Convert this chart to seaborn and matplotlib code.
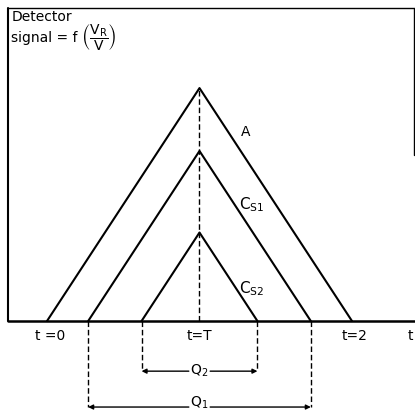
import matplotlib
matplotlib.use("Agg")
import matplotlib.pyplot as plt
import seaborn as sns
import pandas as pd

# Triangular detector responses (t in units of T, signal relative to A)
t_A = [0.0, 1.0, 2.0]
s_A = [0.0, 1.0, 0.0]
t_cs1 = [0.27, 1.0, 1.73]
s_cs1 = [0.0, 0.73, 0.0]
t_cs2 = [0.62, 1.0, 1.38]
s_cs2 = [0.0, 0.38, 0.0]

curve_names = ["A", "$\\mathrm{C_{S1}}$", "$\\mathrm{C_{S2}}$"]
tick_pos = [0.0, 1.0, 2.0]
tick_text = ["t =0", "t=T", "t=2"]

df = pd.concat([
    pd.DataFrame({"t": t_A, "s": s_A, "curve": "A"}),
    pd.DataFrame({"t": t_cs1, "s": s_cs1, "curve": "Cs1"}),
    pd.DataFrame({"t": t_cs2, "s": s_cs2, "curve": "Cs2"}),
])

sns.set_style("white")
plt.rcParams["font.family"] = ["DejaVu Sans"]
plt.rcParams["mathtext.fontset"] = "dejavusans"
plt.rcParams["text.color"] = "black"

fig = plt.figure(figsize=(4.15, 4.11), dpi=100)
ax = fig.add_axes([0, 0, 1, 1])
ax.set_xlim(-0.308, 2.413)
ax.set_ylim(-0.386, 1.378)
ax.axis("off")

lw = 1.5
sns.lineplot(data=df, x="t", y="s", units="curve", estimator=None, sort=False,
             color="black", lw=lw, ax=ax, legend=False)

# frame: left side, top, short right side and the time axis
xl, yt, xr = -0.256, 1.343, 2.407
ax.plot([xl, xl], [0, yt], color="black", lw=lw)
ax.plot([xl, xr], [yt, yt], color="black", lw=1.0)
ax.plot([xr, xr], [yt, 0.712], color="black", lw=1.0)
ax.plot([xl, 2.413], [0, 0], color="black", lw=1.8)

# dashed line at t = T
ax.plot([1.0, 1.0], [0, 1.0], color="black", lw=1.0, ls=(0, (4, 2)))

# axis labels
for x, txt in zip(tick_pos, tick_text):
    ax.text(x + (0.02 if x != 1.0 else 0), -0.062, txt, ha="center", va="center", fontsize=10)
ax.text(2.385, -0.062, "t", ha="center", va="center", fontsize=10)

# curve labels
ax.text(1.30, 0.81, curve_names[0], ha="center", va="center", fontsize=10)
ax.text(1.345, 0.50, curve_names[1], ha="center", va="center", fontsize=11)
ax.text(1.345, 0.14, curve_names[2], ha="center", va="center", fontsize=11)

# title block
ax.text(-0.235, 1.335, "Detector", ha="left", va="top", fontsize=10)
ax.text(-0.235, 1.215, "signal = f", ha="left", va="center", fontsize=10)
ax.text(0.225, 1.215, r"$\left(\dfrac{\mathrm{V_R}}{\mathrm{V}}\right)$",
        ha="left", va="center", fontsize=10)

# width brackets Q2 (Cs2) and Q1 (Cs1)
def bracket(x0, x1, y, label, ylab):
    ax.plot([x0, x0], [0, y], color="black", lw=1.0, ls=(0, (4, 2)))
    ax.plot([x1, x1], [0, y], color="black", lw=1.0, ls=(0, (4, 2)))
    mid = (x0 + x1) / 2
    gap = 0.07
    for end, start in ((x0, mid - gap), (x1, mid + gap)):
        ax.annotate("", xy=(end, y), xytext=(start, y),
                    arrowprops=dict(arrowstyle="-|>", color="black", lw=1.0,
                                    mutation_scale=7, shrinkA=0, shrinkB=0))
    ax.text(mid, ylab, label, ha="center", va="center", fontsize=10)

bracket(t_cs2[0], t_cs2[2], -0.215, "$\\mathrm{Q_2}$", -0.215)
bracket(t_cs1[0], t_cs1[2], -0.369, "$\\mathrm{Q_1}$", -0.352)

fig.savefig("out.png", dpi=100)
